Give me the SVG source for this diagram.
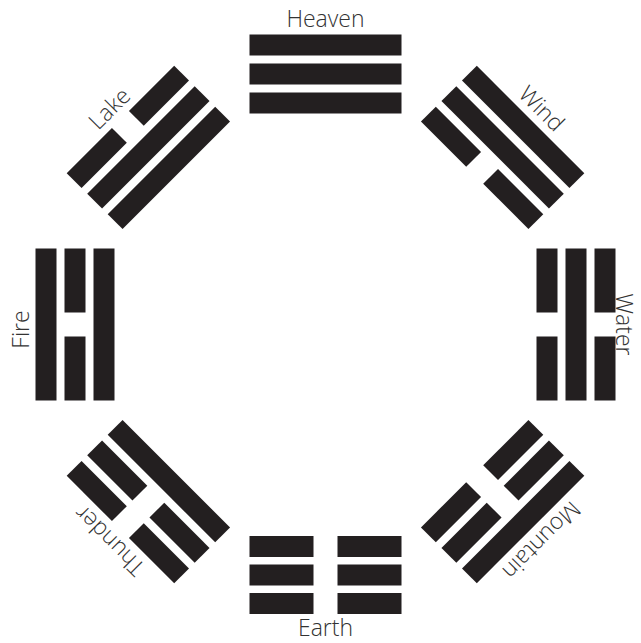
<svg xmlns="http://www.w3.org/2000/svg" xmlns:xlink="http://www.w3.org/1999/xlink" width="641" height="643" viewBox="0 0 641 643">
  <style>
    .bar { fill: #231f20; }
    .lbl { font-family: "Open Sans", "DejaVu Sans", sans-serif; font-weight: 300; font-size: 23px; fill: #333333; text-anchor: middle; }
  </style>
  <defs>
    <rect id="S" class="bar" x="249.5" y="0" width="152" height="21"/>
    <g id="B">
      <rect class="bar" x="249.5" y="0" width="64" height="21"/>
      <rect class="bar" x="337.5" y="0" width="64" height="21"/>
    </g>
  </defs>
  <rect x="0" y="0" width="641" height="643" fill="#ffffff"/>

  <g id="heaven">
    <use xlink:href="#S" href="#S" y="34.5"/>
    <use xlink:href="#S" href="#S" y="63.5"/>
    <use xlink:href="#S" href="#S" y="92.5"/>
    <text class="lbl" x="325.5" y="27">Heaven</text>
  </g>

  <g id="wind" transform="rotate(45 325.5 324.5)">
    <use xlink:href="#S" href="#S" y="34.5"/>
    <use xlink:href="#S" href="#S" y="63.5"/>
    <use xlink:href="#B" href="#B" y="92.5"/>
    <text class="lbl" x="325.5" y="27">Wind</text>
  </g>

  <g id="water" transform="rotate(90 325.5 324.5)">
    <use xlink:href="#B" href="#B" y="34.5"/>
    <use xlink:href="#S" href="#S" y="63.5"/>
    <use xlink:href="#B" href="#B" y="92.5"/>
    <text class="lbl" x="325.5" y="34.5" font-size="22">Water</text>
  </g>

  <g id="mountain" transform="rotate(135 325.5 324.5)">
    <use xlink:href="#S" href="#S" y="34.5"/>
    <use xlink:href="#B" href="#B" y="63.5"/>
    <use xlink:href="#B" href="#B" y="92.5"/>
    <text class="lbl" x="325.5" y="27">Mountain</text>
  </g>

  <g id="earth">
    <use xlink:href="#B" href="#B" y="536"/>
    <use xlink:href="#B" href="#B" y="564.5"/>
    <use xlink:href="#B" href="#B" y="593"/>
    <text class="lbl" x="325.5" y="636">Earth</text>
  </g>

  <g id="thunder" transform="rotate(225 325.5 324.5)">
    <use xlink:href="#B" href="#B" y="34.5"/>
    <use xlink:href="#B" href="#B" y="63.5"/>
    <use xlink:href="#S" href="#S" y="92.5"/>
    <text class="lbl" x="325.5" y="27">Thunder</text>
  </g>

  <g id="fire" transform="rotate(270 325.5 324.5)">
    <use xlink:href="#S" href="#S" y="34.5"/>
    <use xlink:href="#B" href="#B" y="63.5"/>
    <use xlink:href="#S" href="#S" y="92.5"/>
    <text class="lbl" x="320.5" y="28">Fire</text>
  </g>

  <g id="lake" transform="rotate(315 325.5 324.5)">
    <use xlink:href="#B" href="#B" y="34.5"/>
    <use xlink:href="#S" href="#S" y="63.5"/>
    <use xlink:href="#S" href="#S" y="92.5"/>
    <text class="lbl" x="325.5" y="27">Lake</text>
  </g>

  <g id="connectors"/>
</svg>
